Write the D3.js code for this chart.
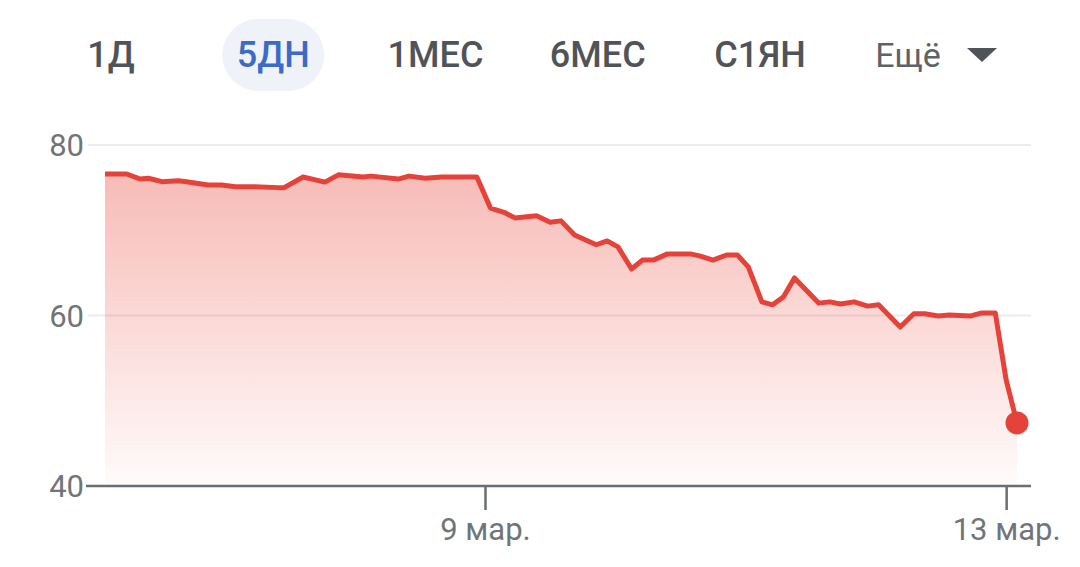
<!DOCTYPE html>
<head>
  <meta charset="utf-8">
  <script src="https://cdn.jsdelivr.net/npm/d3@7"></script>
  <style>
    body { margin: 0; background: #fff; }
    svg { display: block; font-family: Roboto, "Noto Sans", sans-serif; }
  </style>
</head>
<body>
<svg width="1080" height="567"></svg>
<script>
var tabs = ['1Д', '5ДН', '1МЕС', '6МЕС', 'С1ЯН', 'Ещё']
var activeTab = '5ДН'

var times = [
  '2020-03-06 02:00', '2020-03-06 06:00', '2020-03-06 08:30', '2020-03-06 10:00',
  '2020-03-06 12:30', '2020-03-06 15:30', '2020-03-06 17:00', '2020-03-06 21:00',
  '2020-03-06 23:30', '2020-03-07 02:00', '2020-03-07 05:30', '2020-03-07 10:00',
  '2020-03-07 11:00', '2020-03-07 14:30', '2020-03-07 18:30', '2020-03-07 21:00',
  '2020-03-08 01:30', '2020-03-08 03:00', '2020-03-08 08:00', '2020-03-08 10:00',
  '2020-03-08 13:00', '2020-03-08 16:00', '2020-03-08 22:30', '2020-03-09 01:00',
  '2020-03-09 03:30', '2020-03-09 05:30', '2020-03-09 09:30', '2020-03-09 12:00',
  '2020-03-09 14:00', '2020-03-09 16:30', '2020-03-09 20:30', '2020-03-09 22:30',
  '2020-03-10 00:30', '2020-03-10 03:00', '2020-03-10 05:00', '2020-03-10 07:00',
  '2020-03-10 09:30', '2020-03-10 14:00', '2020-03-10 15:30', '2020-03-10 18:00',
  '2020-03-10 20:30', '2020-03-10 22:30', '2020-03-11 00:30', '2020-03-11 03:00',
  '2020-03-11 05:00', '2020-03-11 07:00', '2020-03-11 09:00', '2020-03-11 13:30',
  '2020-03-11 15:30', '2020-03-11 17:30', '2020-03-11 20:00', '2020-03-11 22:30',
  '2020-03-12 00:30', '2020-03-12 04:30', '2020-03-12 07:00', '2020-03-12 09:00',
  '2020-03-12 11:30', '2020-03-12 13:30', '2020-03-12 17:30', '2020-03-12 19:30',
  '2020-03-12 22:00', '2020-03-13 00:00', '2020-03-13 02:00'
]

var prices = [
  76.6, 76.6, 76.0, 76.1, 75.7, 75.8, 75.7, 75.3,
  75.3, 75.1, 75.1, 75.0, 75.0, 76.25, 75.65, 76.5,
  76.25, 76.35, 76.0, 76.35, 76.1, 76.25, 76.25, 72.6,
  72.1, 71.45, 71.7, 70.95, 71.1, 69.45, 68.3, 68.75,
  68.05, 65.45, 66.5, 66.5, 67.2, 67.2, 67.0, 66.5,
  67.1, 67.1, 65.7, 61.6, 61.25, 62.2, 64.4, 61.45,
  61.6, 61.35, 61.6, 61.1, 61.25, 58.65, 60.2, 60.2,
  59.95, 60.05, 59.95, 60.3, 60.3, 52.45, 47.4
]

var yTicks = [40, 60, 80]
var xTicks = ['2020-03-09 00:00', '2020-03-13 00:00']
var xTickLabels = ['9 мар.', '13 мар.']

var parse = d3.timeParse('%Y-%m-%d %H:%M')
var data = times.map(function (t, i) { return {t: parse(t), v: prices[i]} })

var svg = d3.select('svg')

// range tabs
var tabX = d3.scalePoint().domain(tabs.slice(0, 5)).range([111, 760])
var tabG = svg.append('g')
tabG.append('rect')
    .attr('x', tabX(activeTab) - 51).attr('y', 19)
    .attr('width', 102).attr('height', 72)
    .attr('rx', 36)
    .attr('fill', '#eff3f9')
tabG.selectAll('text.tab').data(tabs.slice(0, 5)).enter()
    .append('text')
    .attr('class', 'tab')
    .attr('x', function (d) { return tabX(d) })
    .attr('y', 67)
    .attr('text-anchor', 'middle')
    .attr('font-size', 36)
    .attr('font-weight', 500)
    .attr('fill', function (d) { return d == activeTab ? '#3b6bc4' : '#505458' })
    .text(function (d) { return d })
tabG.append('text')
    .attr('x', 908).attr('y', 67)
    .attr('text-anchor', 'middle')
    .attr('font-size', 34)
    .attr('fill', '#5f6368')
    .text(tabs[5])
tabG.append('path')
    .attr('d', 'M967,48 L997,48 L982,62 Z')
    .attr('fill', '#505458')

// chart
var x = d3.scaleTime()
    .domain([parse('2020-03-06 02:00'), parse('2020-03-13 02:00')])
    .range([105, 1017])
var y = d3.scaleLinear().domain([40, 80]).range([486, 145])

var defs = svg.append('defs')
var grad = defs.append('linearGradient')
    .attr('id', 'fillGrad')
    .attr('x1', 0).attr('y1', 0).attr('x2', 0).attr('y2', 1)
grad.append('stop').attr('offset', '0%').attr('stop-color', '#ea4335').attr('stop-opacity', 0.36)
grad.append('stop').attr('offset', '100%').attr('stop-color', '#ea4335').attr('stop-opacity', 0.02)

svg.append('g').selectAll('line').data(yTicks.slice(1)).enter()
    .append('line')
    .attr('x1', 88).attr('x2', 1031)
    .attr('y1', function (d) { return y(d) })
    .attr('y2', function (d) { return y(d) })
    .attr('stroke', '#ececec')
    .attr('stroke-width', 2)

svg.append('g').selectAll('text').data(yTicks).enter()
    .append('text')
    .attr('x', 84)
    .attr('y', function (d) { return y(d) + 11 })
    .attr('text-anchor', 'end')
    .attr('font-size', 31)
    .attr('fill', '#70757a')
    .text(function (d) { return d })

var area = d3.area()
    .x(function (d) { return x(d.t) })
    .y0(y(40))
    .y1(function (d) { return y(d.v) })
var line = d3.line()
    .x(function (d) { return x(d.t) })
    .y(function (d) { return y(d.v) })

svg.append('path')
    .datum(data)
    .attr('d', area)
    .attr('fill', 'url(#fillGrad)')

// x axis
var xAxis = d3.axisBottom(x)
    .tickValues(xTicks.map(parse))
    .tickFormat(function (d, i) { return xTickLabels[i] })
    .tickSize(24)
    .tickSizeOuter(0)
    .tickPadding(8)
var ax = svg.append('g')
    .attr('transform', 'translate(0,' + y(40) + ')')
    .call(xAxis)
ax.select('.domain').remove()
ax.insert('line', ':first-child')
    .attr('x1', 86).attr('x2', 1031)
    .attr('stroke', '#6a6e72').attr('stroke-width', 2.5)
ax.selectAll('.tick line').attr('stroke', '#6a6e72').attr('stroke-width', 2.5)
ax.selectAll('.tick text')
    .attr('font-family', 'Roboto, sans-serif')
    .attr('font-size', 31)
    .attr('fill', '#70757a')

svg.append('path')
    .datum(data)
    .attr('d', line)
    .attr('fill', 'none')
    .attr('stroke', '#e5423a')
    .attr('stroke-width', 5)
    .attr('stroke-linejoin', 'round')

var last = data[data.length - 1]
svg.append('circle')
    .attr('cx', x(last.t)).attr('cy', y(last.v))
    .attr('r', 11.5)
    .attr('fill', '#e5423a')
</script>
</body>
